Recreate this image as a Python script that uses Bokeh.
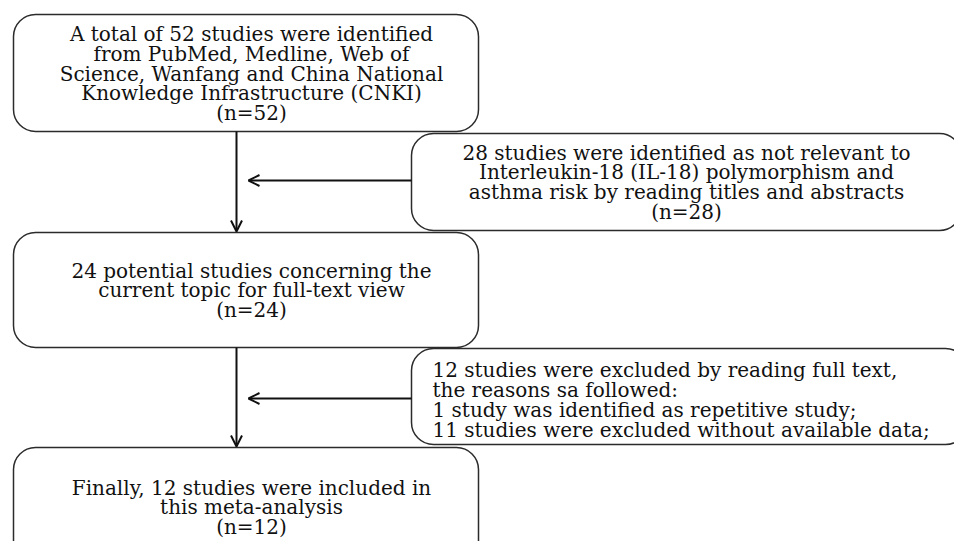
from bokeh.plotting import figure
from bokeh.models import Range1d, Arrow, OpenHead
from bokeh.core.properties import value
from bokeh.embed import file_html
from bokeh.resources import INLINE

# ---- content (data) ----
counts = [52, 28, 24, 12]
box1_lines = ["A total of 52 studies were identified",
              "from PubMed, Medline, Web of",
              "Science, Wanfang and China National",
              "Knowledge Infrastructure (CNKI)"]
box2_lines = ["28 studies were identified as not relevant to",
              "Interleukin-18 (IL-18) polymorphism and",
              "asthma risk by reading titles and abstracts"]
box3_lines = ["24 potential studies concerning the",
              "current topic for full-text view"]
box4_lines = ["12 studies were excluded by reading full text,",
              "the reasons sa followed:",
              "1 study was identified as repetitive study;",
              "11 studies were excluded without available data;"]
box5_lines = ["Finally, 12 studies were included in",
              "this meta-analysis"]

# ---- layout (screen-pixel coordinates) ----
W, H = 954, 541
p = figure(width=W, height=H, output_backend="svg", toolbar_location=None,
           x_range=Range1d(0, W), y_range=Range1d(H, 0),
           min_border=0)
p.axis.visible = False
p.grid.visible = False
p.outline_line_color = None
p.background_fill_color = "white"
p.border_fill_color = "white"

# boxes: left, right, top, bottom
boxes = [(13, 478, 14, 131),
         (411, 961, 133, 230),
         (13, 478, 232, 347),
         (411, 967, 348, 444),
         (13, 478, 447, 580)]
p.quad(left=[b[0] for b in boxes], right=[b[1] for b in boxes],
       top=[b[2] for b in boxes], bottom=[b[3] for b in boxes],
       fill_color="white", line_color="#2b2b2b", line_width=1.5,
       border_radius=22)

FONT = value("DejaVu Serif")
FS = "20px"
COL = "#111111"

def centered(lines, cx, y0, dy=19.8):
    ys = [y0 + i * dy for i in range(len(lines))]
    p.text(x=[cx] * len(lines), y=ys, text=lines, text_align="center",
           text_baseline="middle", text_font=FONT, text_font_size=FS,
           text_color=COL)

centered(box1_lines + ["(n=%d)" % counts[0]], 251, 33.5)
centered(box2_lines + ["(n=%d)" % counts[1]], 686, 152)
centered(box3_lines + ["(n=%d)" % counts[2]], 251, 270)
centered(box5_lines + ["(n=%d)" % counts[3]], 251, 487)

ys4 = [369 + i * 20.2 for i in range(len(box4_lines))]
p.text(x=[432] * len(box4_lines), y=ys4, text=box4_lines, text_align="left",
       text_baseline="middle", text_font=FONT, text_font_size=FS,
       text_color=COL)

# arrows
def arrow(x0, y0, x1, y1):
    p.add_layout(Arrow(end=OpenHead(size=11, line_width=2, line_color="#111111"),
                       x_start=x0, y_start=y0, x_end=x1, y_end=y1,
                       line_width=2, line_color="#111111"))

arrow(236, 131, 236, 231)
arrow(236, 347, 236, 446)
arrow(411, 180, 248, 180)
arrow(411, 398, 248, 398)

open("out.html", "w").write(file_html(p, INLINE))
